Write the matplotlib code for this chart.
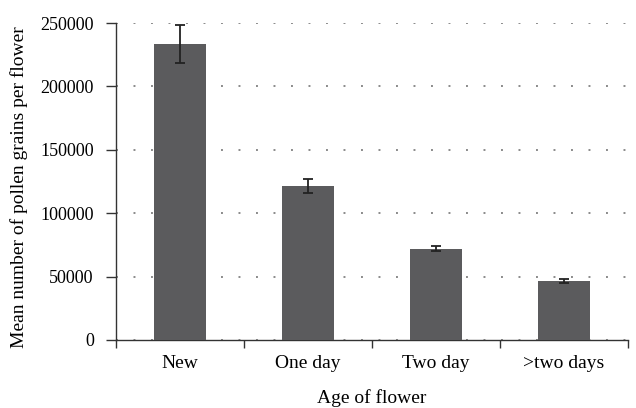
import matplotlib
matplotlib.use("Agg")
import matplotlib.pyplot as plt
import numpy as np

categories = ["New", "One day", "Two day", ">two days"]
means = [233500, 121500, 72000, 46800]
errors = [15000, 5500, 1800, 1500]
yticks = [0, 50000, 100000, 150000, 200000, 250000]

plt.rcParams['font.family'] = ['Liberation Serif', 'DejaVu Serif']

fig = plt.figure(figsize=(6.36, 4.08), dpi=100)
ax = fig.add_axes([116/636, 68/408, 512/636, 317/408])

x = np.arange(len(categories))
ax.bar(x, means, width=0.4, color="#5b5b5d", zorder=3)
ax.errorbar(x, means, yerr=errors, fmt="none", ecolor="#222222", elinewidth=1.3,
            capsize=3.6, capthick=1.3, zorder=4)

ax.set_xlim(-0.5, len(categories) - 0.5)
ax.set_ylim(0, 250000)
ax.set_yticks(yticks)
ax.set_yticklabels([str(v) for v in yticks], fontsize=13)
ax.yaxis.grid(True, linestyle=(0, (1, 8)), color="#8a8a8a", linewidth=1.4, zorder=0)

ax.set_xticks(x)
ax.set_xticklabels(categories, fontsize=14)
ax.tick_params(axis='x', length=0, pad=11)
ax.set_xticks(np.arange(-0.5, len(categories) - 0.4, 1.0), minor=True)
ax.tick_params(axis='x', which='minor', length=6, width=1, direction='out', color="#333333")
ax.tick_params(axis='y', length=7, width=1, direction='out', color="#333333", pad=9)

for s in ["top", "right"]:
    ax.spines[s].set_visible(False)
for s in ["left", "bottom"]:
    ax.spines[s].set_color("#333333")
    ax.spines[s].set_linewidth(1.0)

ax.set_xlabel("Age of flower", fontsize=14, labelpad=12)
ax.set_ylabel("Mean number of pollen grains per flower", fontsize=14)
ax.yaxis.set_label_coords(-0.172, 0.483)

fig.savefig("out.png", dpi=100)
